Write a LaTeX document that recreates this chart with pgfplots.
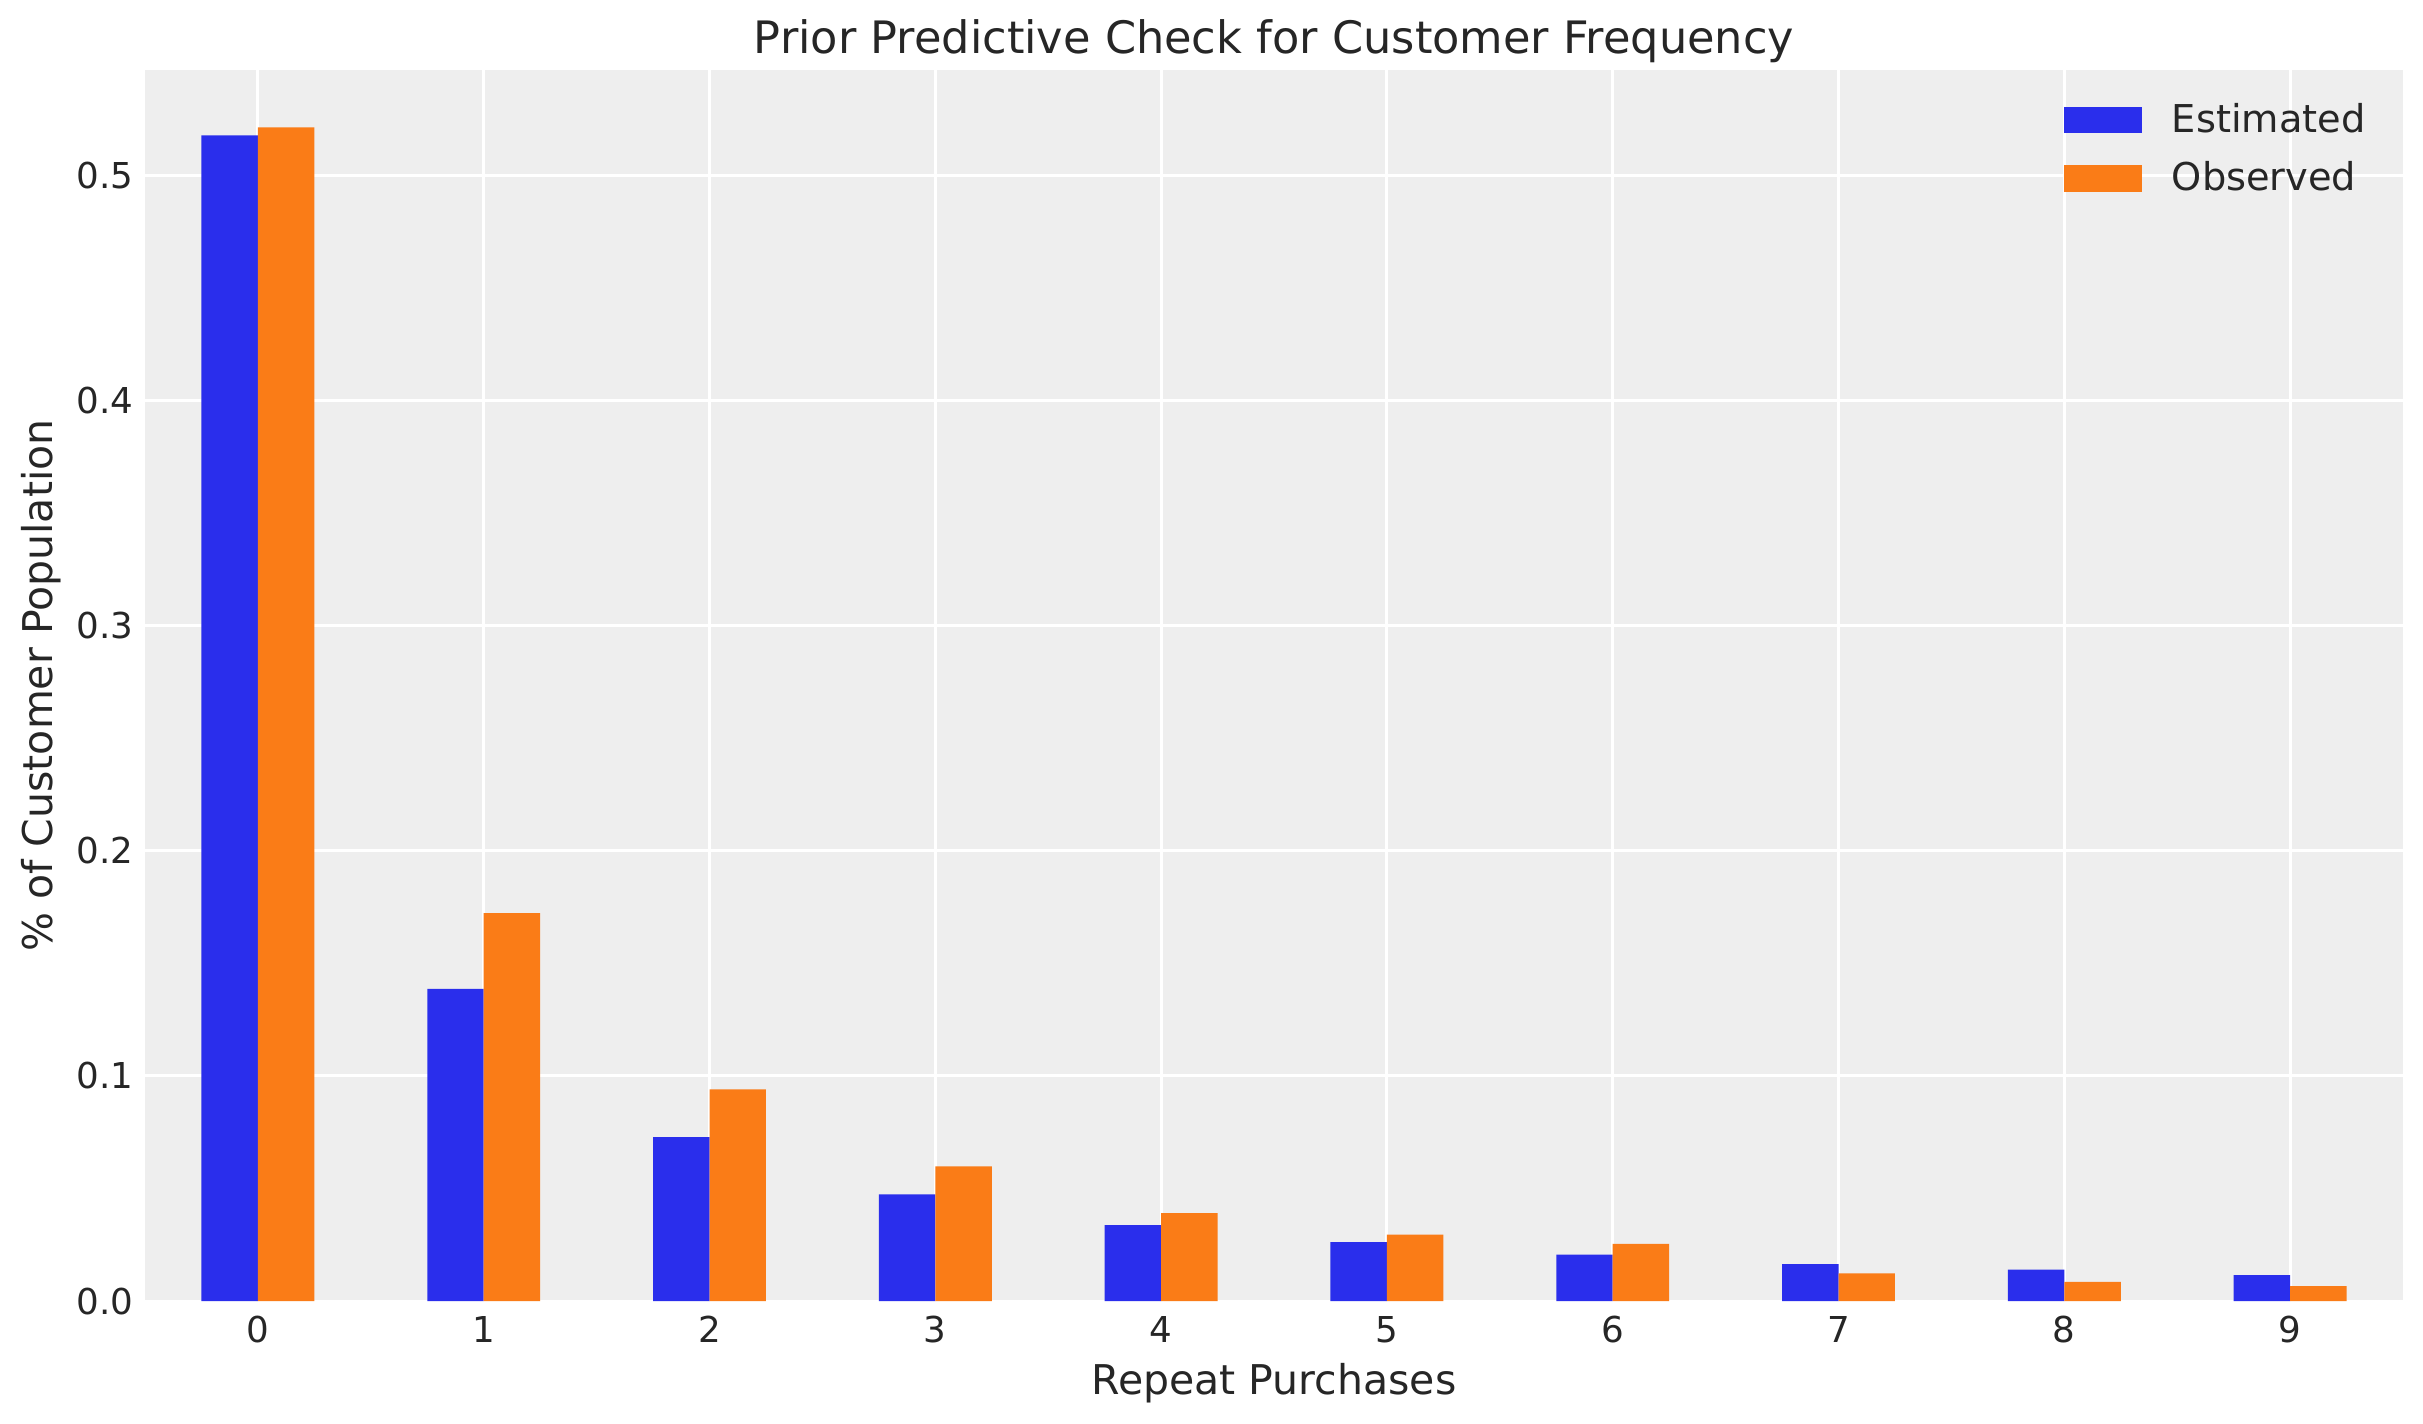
\documentclass[border=0pt]{standalone}
\usepackage{fontspec}
\setmainfont{DejaVu Sans}
\usepackage{pgfplots}
\pgfplotsset{compat=1.18}
\definecolor{estc}{HTML}{2A2EEC}
\definecolor{obsc}{HTML}{FA7C17}
\definecolor{bgc}{HTML}{EEEEEE}
\definecolor{txt}{HTML}{262626}
\newcommand{\fs}{\fontsize{12.3}{14.8}\selectfont}
\newcommand{\ft}{\fontsize{13.4}{16}\selectfont}
\newcommand{\fk}{\fontsize{10.7}{12.8}\selectfont}
\newcommand{\fl}{\fontsize{11.5}{13.8}\selectfont}
\begin{document}
\begin{tikzpicture}
\useasboundingbox (0,0) rectangle (726.9pt,426.9pt);
\begin{axis}[
  at={(43.5pt,36.6pt)}, anchor=south west,
  scale only axis, width=677.4pt, height=369.3pt,
  xmin=-0.5, xmax=9.5, ymin=0, ymax=0.547,
  ybar=0pt, bar width=0.25,
  axis line style={draw=none},
  axis background/.style={fill=bgc},
  grid=major, major grid style={white, line width=0.9pt},
  major tick length=0pt,
  xtick={0,1,2,3,4,5,6,7,8,9},
  ytick={0,0.1,0.2,0.3,0.4,0.5},
  /pgf/number format/assume math mode=true,
  yticklabel style={/pgf/number format/fixed, /pgf/number format/fixed zerofill, /pgf/number format/precision=1},
  every tick label/.append style={font=\fk, text=txt},
  yticklabel style={anchor=east, inner sep=0pt, xshift=-3.3pt},
  xticklabel style={anchor=base, inner sep=0pt, yshift=-12.5pt},
  every axis title shift=0pt,
  title={Prior Predictive Check for Customer Frequency},
  title style={at={(axis description cs:0.5,1.013)}, anchor=base, yshift=0pt, font=\ft, text=txt, inner sep=0pt},
  xlabel={Repeat Purchases},
  xlabel style={at={(axis description cs:0.5,-0.07555)}, anchor=base, font=\fs, text=txt, inner sep=0pt},
  ylabel={\% of Customer Population},
  ylabel style={at={(axis description cs:-0.04104,0.5)}, anchor=base, font=\fs, text=txt, inner sep=0pt},
  legend image code/.code={\fill[#1] (0pt,-4pt) rectangle (23.4pt,4pt);},
  legend style={draw=none, fill=none, font=\fl, text=txt,
    at={(axis description cs:0.8495,0.9737)}, anchor=north west,
    column sep=9pt, row sep=7.2pt, inner sep=0pt,
    nodes={inner sep=0pt, anchor=west}},
  legend cell align=left,
]
\addplot[fill=estc, draw=none] coordinates {
  (0,0.5180) (1,0.1387) (2,0.0728) (3,0.0474) (4,0.0337)
  (5,0.0262) (6,0.0206) (7,0.0164) (8,0.0140) (9,0.0115)};
\addlegendentry{Estimated}
\addplot[fill=obsc, draw=none] coordinates {
  (0,0.5215) (1,0.1724) (2,0.0941) (3,0.0598) (4,0.0391)
  (5,0.0295) (6,0.0254) (7,0.0123) (8,0.0085) (9,0.0066)};
\addlegendentry{Observed}
\end{axis}
\end{tikzpicture}
\end{document}
